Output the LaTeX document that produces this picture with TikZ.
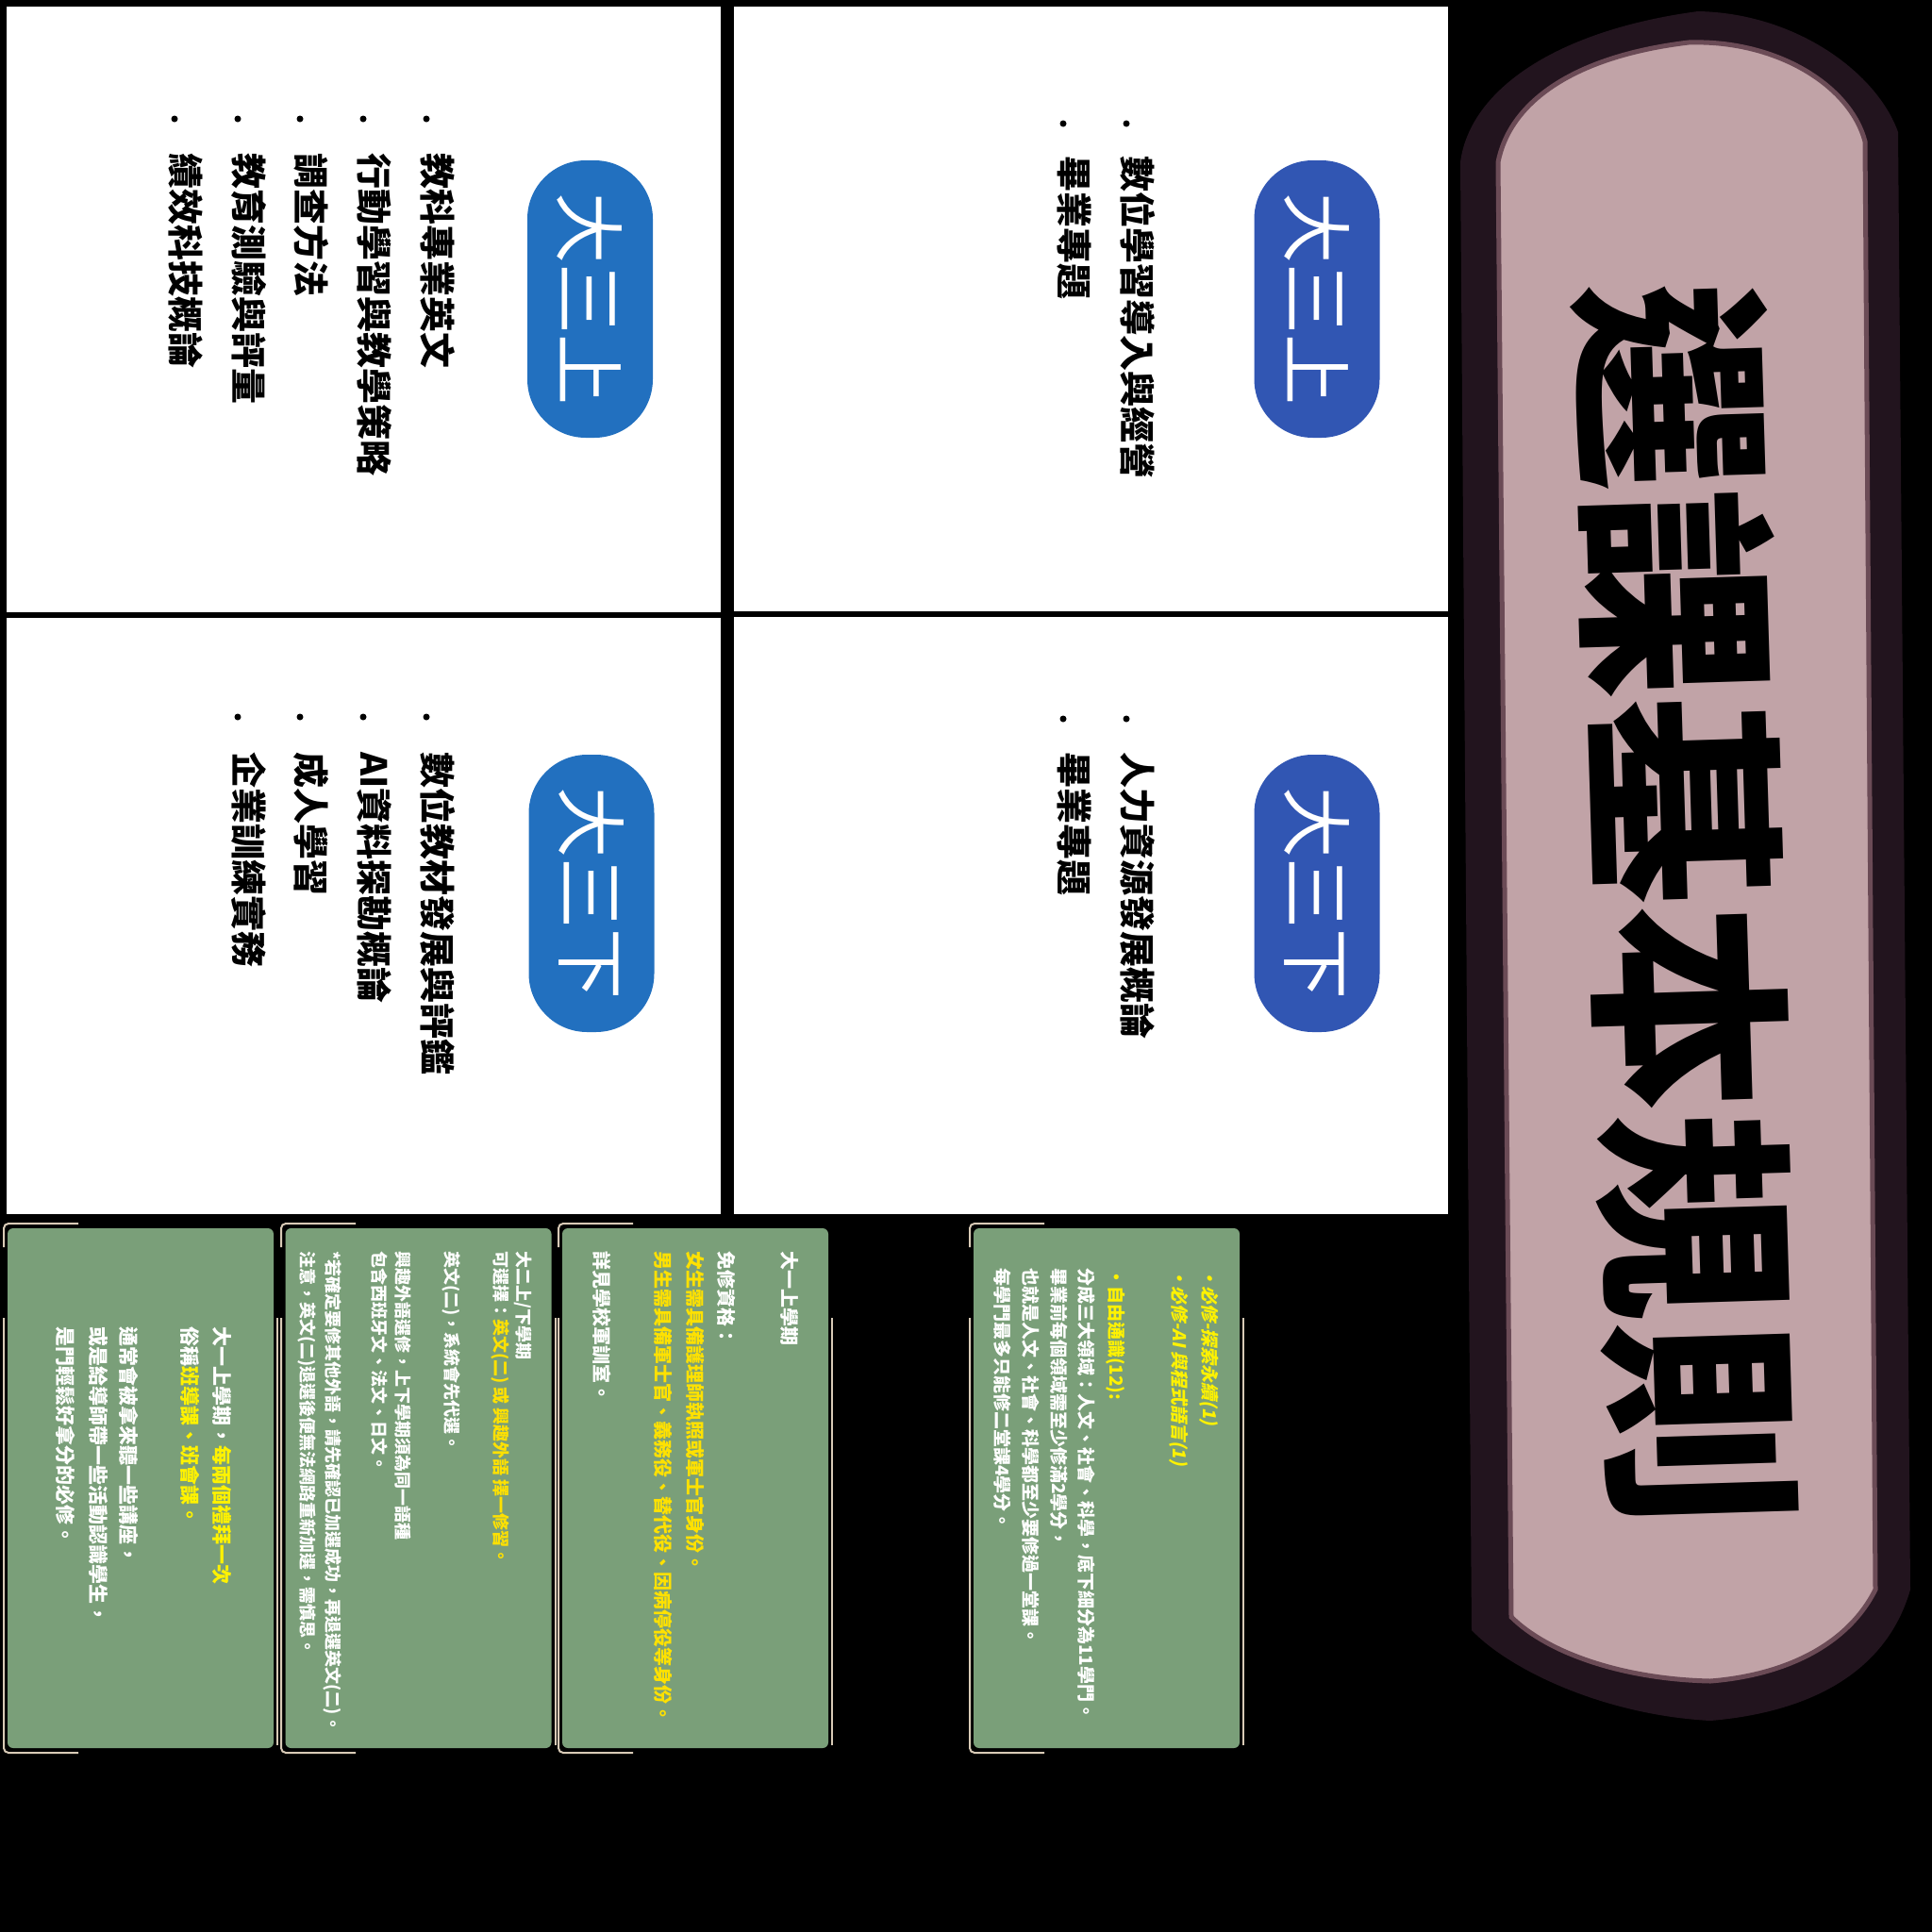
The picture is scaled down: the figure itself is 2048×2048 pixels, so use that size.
\documentclass[tikz,border=0pt]{standalone}
\usepackage{fontspec}
\newfontfamily\cjk{Noto Sans CJK TC}
\newfontfamily\cjkslant[FakeSlant=0.2]{Noto Sans CJK TC}
\definecolor{pillA}{HTML}{2270BF}
\definecolor{pillB}{HTML}{3156B3}
\definecolor{cardgreen}{HTML}{7A9F79}
\definecolor{creamline}{HTML}{D8CAB6}
\definecolor{ylwA}{HTML}{FFE100}
\definecolor{ylwB}{HTML}{FFF200}
\definecolor{bannerdark}{HTML}{22141E}
\definecolor{bannermid}{HTML}{6B4B56}
\definecolor{bannerpink}{HTML}{C1A3A7}
\tikzset{
  pill/.style={rotate=-90, rectangle, rounded corners=62pt, minimum width=294pt,
    minimum height=133pt, inner sep=0pt, text=white, font=\cjk\fontsize{75}{80}\selectfont},
  bul/.style={circle, fill=black, inner sep=0pt, minimum size=7pt},
  ln/.style={rotate=-90, anchor=west, inner sep=0pt},
  ptxt/.style={ln, text=black, font=\cjk\bfseries\fontsize{38}{46}\selectfont},
  card/.style={rectangle, fill=cardgreen, rounded corners=6pt, minimum width=282pt,
    minimum height=551pt, inner sep=0pt},
  cframe/.style={draw=creamline, line width=2pt, rounded corners=5pt},
  ctA/.style={ln, text=white, font=\cjk\bfseries\fontsize{21}{25}\selectfont},
  ctB/.style={ln, text=white, font=\cjk\bfseries\fontsize{18}{22}\selectfont},
  ctC/.style={ln, text=white, font=\cjk\bfseries\fontsize{20}{24}\selectfont},
  ctD/.style={ln, text=white, font=\cjk\bfseries\fontsize{19}{23}\selectfont},
  ctDs/.style={ln, text=ylwB, font=\cjkslant\bfseries\fontsize{19}{23}\selectfont},
}
\begin{document}
\begin{tikzpicture}[x=1pt,y=-1pt]
\useasboundingbox (0,0) rectangle (2048,2048);
\fill[black] (0,0) rectangle (2048,2048);

% white panels
\fill[white] (7,7) rectangle (764,649);
\fill[white] (7,655) rectangle (764,1287);
\fill[white] (778,7) rectangle (1535,648);
\fill[white] (778,654) rectangle (1535,1287);

% pills
\node[pill, fill=pillA] (pTL) at (625.5,317) {大三上};
\node[pill, fill=pillA] (pBL) at (627,947) {大三下};
\node[pill, fill=pillB] (pTR) at (1396,317) {大三上};
\node[pill, fill=pillB] (pBR) at (1396,947) {大三下};

% top-left panel list
\node[bul] (bTL1) at (452,126) {};
\node[bul] (bTL2) at (385,126) {};
\node[bul] (bTL3) at (318,126) {};
\node[bul] (bTL4) at (252,126) {};
\node[bul] (bTL5) at (185,126) {};
\node[ptxt] (tTL1) at (464,162) {教科專業英文};
\node[ptxt] (tTL2) at (397,162) {行動學習與教學策略};
\node[ptxt] (tTL3) at (330,162) {調查方法};
\node[ptxt] (tTL4) at (264,162) {教育測驗與評量};
\node[ptxt] (tTL5) at (197,162) {績效科技概論};

% bottom-left panel list
\node[bul] (bBL1) at (452,760) {};
\node[bul] (bBL2) at (385,760) {};
\node[bul] (bBL3) at (318,760) {};
\node[bul] (bBL4) at (252,760) {};
\node[ptxt] (tBL1) at (464,797) {數位教材發展與評鑑};
\node[ptxt] (tBL2) at (397,797) {AI資料探勘概論};
\node[ptxt] (tBL3) at (330,797) {成人學習};
\node[ptxt] (tBL4) at (264,797) {企業訓練實務};

% top-right panel list
\node[bul] (bTR1) at (1194,131) {};
\node[bul] (bTR2) at (1127,131) {};
\node[ptxt] (tTR1) at (1206,165) {數位學習導入與經營};
\node[ptxt] (tTR2) at (1139,165) {畢業專題};

% bottom-right panel list
\node[bul] (bBR1) at (1194,762) {};
\node[bul] (bBR2) at (1127,762) {};
\node[ptxt] (tBR1) at (1206,797) {人力資源發展概論};
\node[ptxt] (tBR2) at (1139,797) {畢業專題};

% title banner
\fill[bannerdark] (1548,172) .. controls (1558,95) and (1650,32) .. (1800,12)
  .. controls (1905,14) and (1990,78) .. (2012,140) -- (2025,1685)
  .. controls (2000,1772) and (1920,1815) .. (1813,1824)
  .. controls (1700,1818) and (1600,1770) .. (1560,1728) -- cycle;
\filldraw[fill=bannerpink, draw=bannermid, line width=5pt]
  (1588,172) .. controls (1600,110) and (1665,60) .. (1790,45)
  .. controls (1885,42) and (1962,92) .. (1977,150) -- (1988,1685)
  .. controls (1958,1745) and (1890,1776) .. (1813,1782)
  .. controls (1720,1780) and (1640,1752) .. (1602,1714) -- cycle;
\node[rotate=-88.25, inner sep=0pt, text=black,
  font=\cjk\bfseries\fontsize{220}{230}\selectfont] (title) at (1788,959) {選課基本規則};

% green cards
\node[card] (card1) at (149,1577.5) {};
\node[card] (card2) at (443.5,1577.5) {};
\node[card] (card3) at (737,1577.5) {};
\node[card] (card4) at (1173,1577.5) {};
\foreach \xa/\xb in {8/290, 302/585, 596/878, 1032/1314}{
  \draw[cframe] (\xa+75,1297) -- (\xa-4,1297) -- (\xa-4,1322);
  \draw[cframe] (\xa-4,1397) -- (\xa-4,1858) -- (\xa+75,1858);
  \draw[creamline, line width=2pt] (\xb+4,1397) -- (\xb+4,1850);
}

% card 1
\node[ctA] (c1a) at (235,1406) {大一上學期，\textcolor{ylwB}{每兩個禮拜一次}};
\node[ctA] (c1b) at (202,1406) {俗稱\textcolor{ylwB}{班導課、班會課。}};
\node[ctA] (c1c) at (137,1406) {通常會被拿來聽一些講座，};
\node[ctA] (c1d) at (104,1406) {或是給導師帶一些活動認識學生，};
\node[ctA] (c1e) at (70,1406) {是門輕鬆好拿分的必修。};

% card 2
\node[ctB] (c2a) at (555,1326) {大二上/下學期};
\node[ctB] (c2b) at (530,1326) {可選擇：\textcolor{ylwA}{英文(二) 或 興趣外語 擇一修習。}};
\node[ctB] (c2c) at (478,1326) {英文(二)，系統會先代選。};
\node[ctB] (c2d) at (427,1326) {興趣外語選修，上下學期須為同一語種};
\node[ctB] (c2e) at (402,1326) {包含西班牙文、法文、日文。};
\node[ctB] (c2f) at (352,1326) {*若確定要修其他外語，請先確認已加選成功，再退選英文(二)。};
\node[ctB] (c2g) at (325,1326) {注意，英文(二)退選後便無法網路重新加選，需慎思。};

% card 3
\node[ctC] (c3a) at (837,1326) {大一上學期};
\node[ctC] (c3b) at (770,1326) {免修資格：};
\node[ctC, text=ylwA] (c3c) at (737,1326) {女生需具備護理師執照或軍士官身份。};
\node[ctC, text=ylwA] (c3d) at (703,1326) {男生需具備軍士官、義務役、替代役、因病停役等身份。};
\node[ctC] (c3e) at (638,1326) {詳見學校軍訓室。};

% card 4
\node[ctDs] (c4a) at (1282,1344) {・必修-探索永續(1)};
\node[ctDs] (c4b) at (1250,1344) {・必修-AI 與程式語言(1)};
\node[ctD, text=ylwB] (c4c) at (1183,1344) {・自由通識(12):};
\node[ctD] (c4d) at (1152,1344) {分成三大領域：人文、社會、科學，底下細分為11學門。};
\node[ctD] (c4e) at (1123,1344) {畢業前每個領域需至少修滿2學分，};
\node[ctD] (c4f) at (1093,1344) {也就是人文、社會、科學都至少要修過一堂課。};
\node[ctD] (c4g) at (1063,1344) {每學門最多只能修二堂課4學分。};
\end{tikzpicture}
\end{document}
